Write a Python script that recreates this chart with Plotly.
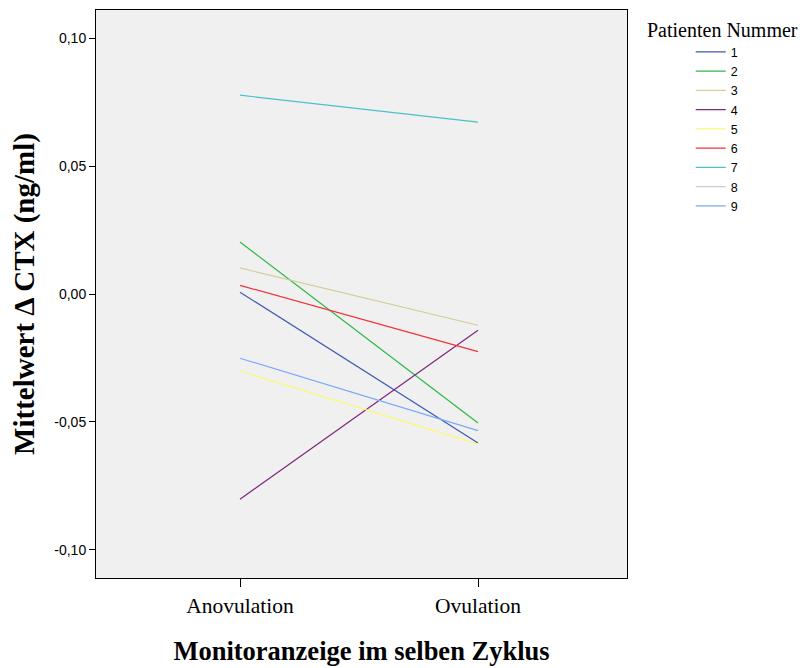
import plotly.graph_objects as go

categories = ["Anovulation", "Ovulation"]
patients = ["1", "2", "3", "4", "5", "6", "7", "8", "9"]
values = {
    "1": [0.0007, -0.0582],
    "2": [0.0203, -0.0504],
    "3": [0.0102, -0.0122],
    "4": [-0.0802, -0.0142],
    "5": [-0.0301, -0.0587],
    "6": [0.0034, -0.0225],
    "7": [0.0777, 0.0672],
    "8": [None, None],
    "9": [-0.0251, -0.0534],
}
colors = {
    "1": "#3E58AC", "2": "#2EB848", "3": "#D3CE97", "4": "#7C287D",
    "5": "#FBF873", "6": "#EF3338", "7": "#48C2C5", "8": "#CCCCCC", "9": "#7BAAF7",
}
y_ticks = [-0.10, -0.05, 0.00, 0.05, 0.10]
y_ticklabels = ["-0,10", "-0,05", "0,00", "0,05", "0,10"]

fig = go.Figure()
for p in patients:
    fig.add_trace(go.Scatter(
        x=categories, y=values[p], mode="lines", name=p,
        line=dict(color=colors[p], width=1.2),
    ))

fig.update_layout(
    width=801, height=660,
    margin=dict(l=88, r=182, t=2, b=90, autoexpand=False),
    paper_bgcolor="white", plot_bgcolor="#F0F0F0",
    showlegend=True,
    legend=dict(
        font=dict(family="Liberation Sans", size=12.5, color="black"),
        x=1.12, y=0.952, xanchor="left", yanchor="top",
        tracegroupgap=0, itemwidth=30, bgcolor="rgba(0,0,0,0)",
    ),
    annotations=[dict(
        text="Patienten Nummer", xref="paper", yref="paper",
        x=1.034, y=0.965, xanchor="left", yanchor="middle", showarrow=False,
        font=dict(family="Liberation Serif", size=20, color="black"),
    )],
)
fig.update_xaxes(
    type="category", range=[-0.605, 1.626], automargin=False,
    showline=True, linecolor="black", linewidth=1, mirror=True,
    ticks="outside", ticklen=8, tickcolor="black",
    tickfont=dict(family="Liberation Serif", size=21.5, color="black"),
    showgrid=False, zeroline=False,
    title=dict(text="<b>Monitoranzeige im selben Zyklus</b>",
               font=dict(family="Liberation Serif", size=26.5, color="black"), standoff=24),
)
fig.update_yaxes(
    range=[-0.111, 0.111], automargin=False,
    tickvals=y_ticks, ticktext=y_ticklabels,
    showline=True, linecolor="black", linewidth=1, mirror=True,
    ticks="outside", ticklen=6, tickcolor="black",
    tickfont=dict(family="Liberation Sans", size=14, color="black"),
    showgrid=False, zeroline=False,
    title=dict(text="<b>Mittelwert Δ CTX (ng/ml)</b>",
               font=dict(family="Liberation Serif", size=29, color="black"), standoff=14),
)

fig.write_html("out.html")
